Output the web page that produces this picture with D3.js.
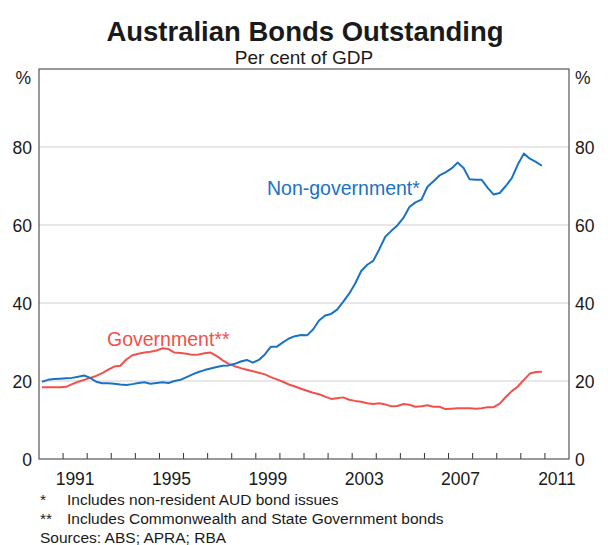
<!DOCTYPE html>
<html><head><meta charset="utf-8">
<script src="https://cdn.jsdelivr.net/npm/d3@7"></script>
<style>body{margin:0;background:#fff}svg{display:block;font-family:"Liberation Sans",Arial,sans-serif}</style>
</head><body><svg id="c" width="608" height="545"></svg>
<script>
const startQuarter = 1990.125; // first observation (mid Q1 1990), quarterly
const nonGovernment = [19.8,20.3,20.5,20.6,20.7,20.8,21.1,21.4,20.8,19.8,19.4,19.4,19.3,19.1,19.0,19.2,19.5,19.7,19.3,19.5,19.7,19.5,20.0,20.3,21.0,21.7,22.3,22.8,23.2,23.6,23.9,24.0,24.4,25.0,25.4,24.7,25.4,26.8,28.8,28.8,29.9,30.9,31.5,31.8,31.7,33.2,35.5,36.8,37.2,38.3,40.3,42.4,45.0,48.2,49.8,50.8,53.8,57.0,58.5,59.9,61.8,64.6,65.8,66.5,69.8,71.2,72.7,73.5,74.5,76.0,74.6,71.7,71.6,71.6,69.5,67.8,68.2,70.0,72.0,75.5,78.3,77.0,76.2,75.2];
const government = [18.4,18.4,18.4,18.4,18.5,19.2,19.8,20.3,20.8,21.3,22.0,22.9,23.7,23.9,25.5,26.6,27.0,27.3,27.5,27.8,28.4,28.2,27.3,27.2,27.0,26.7,26.8,27.1,27.3,26.4,25.3,24.4,23.8,23.3,22.9,22.5,22.1,21.7,21.0,20.4,19.8,19.1,18.6,18.0,17.5,17.0,16.6,16.0,15.4,15.6,15.8,15.2,14.9,14.7,14.3,14.1,14.3,14.0,13.5,13.6,14.1,13.9,13.4,13.5,13.8,13.4,13.4,12.8,12.9,13.0,13.0,13.0,12.9,13.0,13.3,13.3,14.2,15.9,17.4,18.6,20.3,21.9,22.3,22.4];
const yTicks = [0,20,40,60,80];
const yearLabels = [1991,1995,1999,2003,2007,2011];
const title = "Australian Bonds Outstanding";
const subtitle = "Per cent of GDP";
const notes = [["*","Includes non-resident AUD bond issues"],["**","Includes Commonwealth and State Government bonds"]];
const sources = "Sources: ABS; APRA; RBA";

const svg = d3.select("#c");
const L=39,R=569,T=69,B=459;
const x = d3.scaleLinear().domain([1990,2012]).range([L,R]);
const y = d3.scaleLinear().domain([0,100]).range([B,T]);
const blue="#1a72c2", red="#f2504b", ink="#1a1a1a";

svg.append("text").attr("x",305).attr("y",41).attr("text-anchor","middle")
  .attr("font-size",27.5).attr("font-weight","bold").attr("fill",ink).text(title);
svg.append("text").attr("x",304).attr("y",64).attr("text-anchor","middle")
  .attr("font-size",19).attr("fill",ink).text(subtitle);

// gridlines
svg.append("g").selectAll("line").data(yTicks.filter(d=>d>0)).join("line")
  .attr("x1",L).attr("x2",R).attr("y1",d=>y(d)).attr("y2",d=>y(d))
  .attr("stroke","#d0d0d0").attr("stroke-width",1.2);

// y labels
const yl = svg.append("g").attr("font-size",17.5).attr("fill",ink);
yl.selectAll("text.l").data(yTicks).join("text").attr("class","l")
  .attr("x",32).attr("y",d=>y(d)+6.5).attr("text-anchor","end").text(d=>d);
yl.selectAll("text.r").data(yTicks).join("text").attr("class","r")
  .attr("x",575).attr("y",d=>y(d)+6.5).attr("text-anchor","start").text(d=>d);
yl.append("text").attr("x",31).attr("y",y(100)+15).attr("text-anchor","end").text("%");
yl.append("text").attr("x",575).attr("y",y(100)+15).attr("text-anchor","start").text("%");

// x ticks (inside, upward)
const years = d3.range(1991,2012);
svg.append("g").selectAll("line").data(years).join("line")
  .attr("x1",d=>x(d)).attr("x2",d=>x(d)).attr("y1",B).attr("y2",B-6)
  .attr("stroke","#333").attr("stroke-width",1);
svg.append("g").attr("font-size",17.5).attr("fill",ink).selectAll("text").data(yearLabels).join("text")
  .attr("x",d=>x(d+0.5)).attr("y",B+26).attr("text-anchor","middle").text(d=>d);

// frame
svg.append("rect").attr("x",L).attr("y",T).attr("width",R-L).attr("height",B-T)
  .attr("fill","none").attr("stroke","#555").attr("stroke-width",1.2);

const line = d3.line().x((d,i)=>x(startQuarter+0.25*i)).y(d=>y(d));
svg.append("path").datum(government).attr("d",line).attr("fill","none").attr("stroke",red).attr("stroke-width",2).attr("stroke-linejoin","round");
svg.append("path").datum(nonGovernment).attr("d",line).attr("fill","none").attr("stroke",blue).attr("stroke-width",2).attr("stroke-linejoin","round");

svg.append("text").attr("x",267).attr("y",195).attr("font-size",19.5).attr("fill",blue).text("Non-government*");
svg.append("text").attr("x",107).attr("y",346).attr("font-size",19.5).attr("fill",red).text("Government**");

const fn = svg.append("g").attr("font-size",15.5).attr("fill",ink);
notes.forEach((n,i)=>{
  fn.append("text").attr("x",40).attr("y",505+i*19).text(n[0]);
  fn.append("text").attr("x",67).attr("y",505+i*19).text(n[1]);
});
fn.append("text").attr("x",40).attr("y",543).text(sources);
</script></body></html>
